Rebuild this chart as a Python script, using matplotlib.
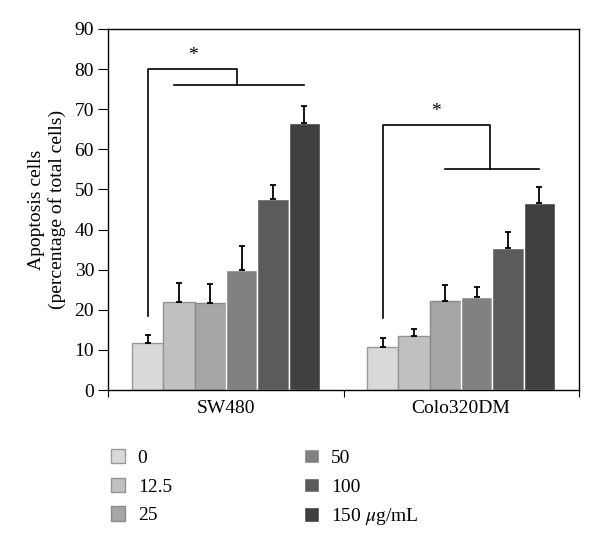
import matplotlib.pyplot as plt
import numpy as np

groups = ['SW480', 'Colo320DM']
doses = ['0', '12.5', '25', '50', '100', '150 $\\mu$g/mL']
colors = ['#d9d9d9', '#c0c0c0', '#a6a6a6', '#818181', '#5b5b5b', '#404040']
edges = ['#9a9a9a', '#939393', '#8a8a8a', 'white', 'white', 'white']

# mean values per dose, one list per cell line
sw480 = [11.8, 22.0, 21.8, 29.8, 47.5, 66.5]
colo = [10.8, 13.5, 22.3, 23.3, 35.3, 46.5]
sw480_err = [2.0, 4.8, 4.7, 6.0, 3.5, 4.3]
colo_err = [2.2, 1.7, 4.0, 2.5, 4.0, 4.0]

plt.rcParams['font.family'] = ['Liberation Serif', 'DejaVu Serif']
plt.rcParams['mathtext.fontset'] = 'stix'

fig = plt.figure(figsize=(6, 5.47), dpi=100)
ax = fig.add_axes([0.18, 0.287, 0.785, 0.66])

w = 0.133
x = np.arange(len(groups))
vals = np.array([sw480, colo])
errs = np.array([sw480_err, colo_err])
for i in range(len(doses)):
    pos = x + (i - 2.5) * w
    ax.bar(pos, vals[:, i], w, color=colors[i], edgecolor=edges[i],
           linewidth=1, label=doses[i], zorder=2)
    ax.errorbar(pos, vals[:, i], yerr=[np.zeros(2), errs[:, i]], fmt='none',
                ecolor='black', elinewidth=1.3, capsize=2.5, capthick=1.3, zorder=3)

# significance brackets
def bracket(g, y_start, y_top, y_low, right, low_from, low_to):
    c = x[g]
    b1 = c - 2.5 * w
    ax.plot([b1, b1, c + right, c + right], [y_start, y_top, y_top, y_low],
            color='black', lw=1.2, zorder=3)
    ax.plot([c + low_from, c + low_to], [y_low, y_low], color='black', lw=1.2, zorder=3)
    ax.text((b1 + c + right) / 2, y_top + 1.2, '*', ha='center', va='bottom', fontsize=14)

bracket(0, 18.4, 80, 76, 0.047, -0.221, 2.5 * w)
bracket(1, 17.9, 66, 55, 0.123, -0.5 * w, 2.5 * w)

ax.set_xlim(-0.502, 1.502)
ax.set_ylim(0, 90)
ax.set_yticks(np.arange(0, 91, 10))
ax.set_xticks([-0.502, 0.5, 1.502])
ax.set_xticklabels([])
ax.set_xticks(x, minor=True)
ax.set_xticklabels(groups, minor=True, fontsize=14)
ax.tick_params(axis='x', which='minor', length=0, pad=7)
ax.tick_params(axis='x', which='major', length=5, direction='out')
ax.tick_params(axis='y', length=7, direction='out', labelsize=14, pad=3)
for s in ax.spines.values():
    s.set_linewidth(1)
ax.set_ylabel('Apoptosis cells\n(percentage of total cells)', fontsize=14, labelpad=6)

fig.legend(loc='upper left', bbox_to_anchor=(0.155, 0.211), ncol=2, frameon=False,
           fontsize=14, handlelength=0.75, handleheight=0.75, handletextpad=0.65,
           columnspacing=6.8, labelspacing=0.55)

fig.savefig('out.png', dpi=100)
